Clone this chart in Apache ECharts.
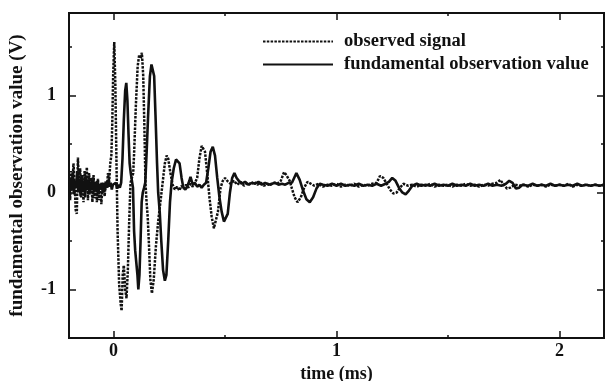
<!DOCTYPE html>
<html style="height: 100%">
<head>
    <meta charset="utf-8">
    <script src="https://cdn.jsdelivr.net/npm/echarts@6/dist/echarts.min.js"></script>
</head>
<body style="height: 100%; margin: 0; background: #fff">
<div id="container" style="width: 605px; height: 381px"></div>

<script type="text/javascript">
    // values: [time (ms), volts]
    var observedSignal = [
        [-0.198, 0.10], [-0.195, -0.08], [-0.19, 0.22], [-0.185, 0.05], [-0.18, 0.30], [-0.175, 0.12],
        [-0.17, -0.18], [-0.165, -0.22], [-0.16, 0.36], [-0.155, 0.08], [-0.15, 0.25], [-0.145, -0.05],
        [-0.14, 0.18], [-0.135, -0.10], [-0.13, 0.22], [-0.125, 0.02], [-0.12, 0.26], [-0.115, -0.08],
        [-0.11, 0.20], [-0.105, 0.00], [-0.10, 0.15], [-0.095, -0.10], [-0.09, 0.18], [-0.085, -0.06],
        [-0.08, 0.12], [-0.075, -0.10], [-0.07, 0.14], [-0.065, -0.08], [-0.06, 0.10], [-0.055, -0.12],
        [-0.05, 0.06], [-0.045, 0.10], [-0.04, -0.04], [-0.035, 0.12], [-0.03, 0.05], [-0.025, 0.20],
        [-0.02, 0.10], [-0.015, 0.30], [-0.01, 0.38], [-0.006, 0.70], [-0.002, 1.20], [0.003, 1.55],
        [0.008, 1.10], [0.013, 0.30], [0.018, -0.40], [0.025, -0.95], [0.032, -1.15], [0.036, -1.22],
        [0.041, -0.85], [0.046, -0.75], [0.052, -1.00], [0.058, -1.09], [0.064, -0.80], [0.07, -0.30],
        [0.076, 0.10], [0.082, 0.15], [0.088, 0.20], [0.092, 0.40], [0.10, 0.90], [0.108, 1.30],
        [0.115, 1.42], [0.121, 1.38], [0.127, 1.44], [0.133, 1.20], [0.138, 0.70], [0.143, 0.10],
        [0.148, -0.10], [0.153, -0.25], [0.158, -0.50], [0.165, -0.90], [0.172, -1.04], [0.18, -0.90],
        [0.19, -0.55], [0.20, -0.30], [0.21, -0.10], [0.22, 0.10], [0.23, 0.30], [0.238, 0.38],
        [0.245, 0.35], [0.255, 0.20], [0.265, 0.08], [0.275, 0.03], [0.285, 0.06], [0.295, 0.02],
        [0.305, 0.07], [0.315, 0.04], [0.325, 0.08], [0.335, 0.05], [0.345, 0.09], [0.355, 0.06],
        [0.365, 0.10], [0.375, 0.15], [0.385, 0.35], [0.395, 0.48], [0.403, 0.50], [0.41, 0.42],
        [0.42, 0.20], [0.43, -0.05], [0.44, -0.25], [0.45, -0.37], [0.458, -0.38], [0.468, -0.20],
        [0.48, 0.05], [0.49, 0.12], [0.50, 0.15], [0.51, 0.12], [0.525, 0.09], [0.54, 0.12],
        [0.555, 0.08], [0.57, 0.11], [0.585, 0.07], [0.60, 0.10], [0.615, 0.08], [0.63, 0.11],
        [0.645, 0.08], [0.66, 0.10], [0.675, 0.07], [0.69, 0.09], [0.705, 0.08], [0.72, 0.10],
        [0.735, 0.09], [0.75, 0.12], [0.765, 0.21], [0.775, 0.18], [0.79, 0.12], [0.80, 0.04],
        [0.812, -0.05], [0.825, -0.10], [0.84, -0.05], [0.855, 0.05], [0.87, 0.11], [0.885, 0.09],
        [0.90, 0.07], [0.92, 0.09], [0.94, 0.06], [0.96, 0.08], [0.98, 0.07], [1.00, 0.09],
        [1.02, 0.06], [1.04, 0.08], [1.06, 0.07], [1.08, 0.09], [1.10, 0.06], [1.12, 0.08],
        [1.14, 0.07], [1.16, 0.09], [1.18, 0.10], [1.195, 0.17], [1.21, 0.15], [1.225, 0.09],
        [1.24, 0.03], [1.255, -0.01], [1.27, 0.00], [1.285, 0.05], [1.30, 0.09], [1.32, 0.07],
        [1.34, 0.08], [1.36, 0.06], [1.38, 0.08], [1.40, 0.07], [1.42, 0.09], [1.44, 0.06],
        [1.46, 0.08], [1.48, 0.07], [1.50, 0.08], [1.52, 0.06], [1.54, 0.08], [1.56, 0.07],
        [1.58, 0.09], [1.60, 0.07], [1.62, 0.08], [1.64, 0.06], [1.66, 0.08], [1.68, 0.07],
        [1.70, 0.09], [1.72, 0.10], [1.735, 0.13], [1.75, 0.08], [1.765, 0.04], [1.78, 0.05],
        [1.80, 0.08], [1.82, 0.07], [1.84, 0.08], [1.86, 0.06], [1.88, 0.08], [1.90, 0.07],
        [1.92, 0.08], [1.94, 0.06], [1.96, 0.08], [1.98, 0.07], [2.00, 0.08], [2.02, 0.07],
        [2.04, 0.09], [2.06, 0.06], [2.08, 0.08], [2.10, 0.07], [2.12, 0.08], [2.14, 0.07],
        [2.16, 0.08], [2.18, 0.07], [2.20, 0.08]
    ];

    var fundamentalValue = [
        [-0.198, 0.00], [-0.193, 0.15], [-0.188, 0.02], [-0.183, 0.20], [-0.178, -0.02], [-0.173, 0.12],
        [-0.168, 0.05], [-0.163, 0.22], [-0.158, 0.00], [-0.153, 0.14], [-0.148, -0.04], [-0.143, 0.18],
        [-0.138, 0.02], [-0.133, 0.12], [-0.128, -0.05], [-0.123, 0.15], [-0.118, 0.03], [-0.113, 0.12],
        [-0.108, -0.02], [-0.103, 0.10], [-0.098, 0.04], [-0.093, 0.13], [-0.088, 0.00], [-0.083, 0.10],
        [-0.078, 0.02], [-0.073, 0.12], [-0.068, -0.02], [-0.063, 0.08], [-0.058, 0.03], [-0.053, 0.10],
        [-0.048, 0.00], [-0.043, 0.09], [-0.038, 0.03], [-0.033, 0.10], [-0.028, 0.05], [-0.023, 0.12],
        [-0.018, 0.06], [-0.013, 0.10], [-0.008, 0.03], [-0.003, 0.08], [0.003, 0.06], [0.01, 0.10],
        [0.016, 0.04], [0.022, 0.08], [0.028, 0.05], [0.034, 0.10], [0.04, 0.35], [0.046, 0.75],
        [0.052, 1.05], [0.057, 1.13], [0.062, 0.95], [0.067, 0.60], [0.072, 0.30], [0.077, 0.20],
        [0.082, 0.22], [0.087, 0.05], [0.092, -0.40], [0.097, -0.60], [0.102, -0.58], [0.107, -0.85],
        [0.111, -1.00], [0.116, -0.85], [0.121, -0.50], [0.126, -0.10], [0.131, 0.00], [0.137, 0.05],
        [0.142, 0.10], [0.148, 0.40], [0.155, 0.80], [0.163, 1.20], [0.17, 1.32], [0.176, 1.33],
        [0.182, 1.20], [0.188, 0.80], [0.195, 0.30], [0.20, 0.00], [0.207, -0.20], [0.214, -0.50],
        [0.222, -0.80], [0.23, -0.91], [0.237, -0.85], [0.245, -0.50], [0.253, -0.10], [0.26, 0.10],
        [0.27, 0.25], [0.28, 0.34], [0.288, 0.35], [0.296, 0.30], [0.305, 0.15], [0.313, 0.05],
        [0.322, 0.03], [0.33, 0.06], [0.34, 0.12], [0.345, 0.16], [0.355, 0.08], [0.365, 0.10],
        [0.375, 0.06], [0.385, 0.08], [0.395, 0.05], [0.405, 0.08], [0.415, 0.10], [0.425, 0.25],
        [0.435, 0.42], [0.445, 0.47], [0.455, 0.38], [0.465, 0.15], [0.475, -0.05], [0.485, -0.20],
        [0.495, -0.30], [0.503, -0.32], [0.512, -0.22], [0.522, 0.00], [0.532, 0.15], [0.542, 0.20],
        [0.552, 0.15], [0.562, 0.12], [0.575, 0.09], [0.59, 0.11], [0.605, 0.08], [0.62, 0.10],
        [0.635, 0.09], [0.65, 0.11], [0.665, 0.08], [0.68, 0.10], [0.695, 0.08], [0.71, 0.09],
        [0.725, 0.10], [0.74, 0.08], [0.755, 0.09], [0.77, 0.08], [0.785, 0.10], [0.80, 0.10],
        [0.81, 0.15], [0.82, 0.20], [0.835, 0.13], [0.85, 0.02], [0.865, -0.07], [0.88, -0.10],
        [0.895, -0.05], [0.91, 0.04], [0.925, 0.09], [0.94, 0.08], [0.96, 0.07], [0.98, 0.09],
        [1.00, 0.07], [1.02, 0.09], [1.04, 0.07], [1.06, 0.08], [1.08, 0.07], [1.10, 0.09],
        [1.12, 0.07], [1.14, 0.08], [1.16, 0.07], [1.18, 0.09], [1.20, 0.07], [1.22, 0.09],
        [1.235, 0.11], [1.25, 0.15], [1.265, 0.12], [1.28, 0.05], [1.295, 0.00], [1.31, -0.02],
        [1.325, 0.02], [1.34, 0.07], [1.36, 0.09], [1.38, 0.07], [1.40, 0.08], [1.42, 0.07],
        [1.44, 0.09], [1.46, 0.07], [1.48, 0.08], [1.50, 0.07], [1.52, 0.09], [1.54, 0.07],
        [1.56, 0.08], [1.58, 0.07], [1.60, 0.09], [1.62, 0.07], [1.64, 0.08], [1.66, 0.07],
        [1.68, 0.09], [1.70, 0.07], [1.72, 0.08], [1.74, 0.07], [1.76, 0.09], [1.775, 0.12],
        [1.79, 0.10], [1.805, 0.04], [1.82, 0.05], [1.835, 0.08], [1.86, 0.07], [1.88, 0.09],
        [1.90, 0.07], [1.92, 0.08], [1.94, 0.07], [1.96, 0.09], [1.98, 0.07], [2.00, 0.08],
        [2.02, 0.07], [2.04, 0.08], [2.06, 0.07], [2.08, 0.09], [2.10, 0.07], [2.12, 0.08],
        [2.14, 0.07], [2.16, 0.08], [2.18, 0.07], [2.20, 0.08]
    ];

    var xMajorTicks = [0, 1, 2];
    var xMinorTicks = [0.5, 1.5];
    var yMajorTicks = [-1, 0, 1];
    var yMinorTicks = [-1.5, -0.5, 0.5, 1.5];

    var font = "'Liberation Serif', 'Times New Roman', serif";
    var ink = '#111';

    function xAxisOf(pos, ticks, len, labels) {
        return {
            type: 'value', position: pos, min: -0.2, max: 2.2,
            axisLine: {show: true, onZero: false, lineStyle: {color: ink, width: 2}},
            axisTick: {show: true, inside: true, length: len, customValues: ticks,
                       lineStyle: {color: ink, width: 1.5}},
            axisLabel: labels ? {show: true, customValues: ticks, margin: 4,
                       color: ink, fontFamily: font, fontSize: 18, fontWeight: 'bold'} : {show: false},
            splitLine: {show: false}
        };
    }
    function yAxisOf(pos, ticks, len, labels) {
        return {
            type: 'value', position: pos, min: -1.5, max: 1.85,
            axisLine: {show: true, onZero: false, lineStyle: {color: ink, width: 2}},
            axisTick: {show: true, inside: true, length: len, customValues: ticks,
                       lineStyle: {color: ink, width: 1.5}},
            axisLabel: labels ? {show: true, customValues: ticks, margin: 13,
                       color: ink, fontFamily: font, fontSize: 18, fontWeight: 'bold'} : {show: false},
            splitLine: {show: false}
        };
    }

    var xMain = xAxisOf('bottom', xMajorTicks, 7, true);
    xMain.name = 'time (ms)';
    xMain.nameLocation = 'middle';
    xMain.nameGap = 25;
    xMain.nameTextStyle = {color: ink, fontFamily: font, fontSize: 18, fontWeight: 'bold'};

    var yMain = yAxisOf('left', yMajorTicks, 7, true);
    yMain.name = 'fundamental observation value (V)';
    yMain.nameLocation = 'middle';
    yMain.nameGap = 42;
    yMain.nameTextStyle = {color: ink, fontFamily: font, fontSize: 19, fontWeight: 'bold'};

    var myChart = echarts.init(document.getElementById('container'));
    myChart.setOption({
        animation: false,
        backgroundColor: '#fff',
        grid: {left: 69, right: 1, top: 13, bottom: 43, outerBoundsMode: 'none'},
        legend: {
            orient: 'vertical', left: 262, top: 32, padding: 0,
            itemWidth: 70, itemHeight: 14, itemGap: 4,
            itemStyle: {opacity: 0},
            textStyle: {color: ink, fontFamily: font, fontSize: 18.5, fontWeight: 'bold',
                        padding: [0, 0, 0, 6]},
            data: ['observed signal', 'fundamental observation value']
        },
        xAxis: [
            xMain,
            xAxisOf('top', xMajorTicks, 7, false),
            xAxisOf('bottom', xMinorTicks, 3, false),
            xAxisOf('top', xMinorTicks, 3, false)
        ],
        yAxis: [
            yMain,
            yAxisOf('right', yMajorTicks, 7, false),
            yAxisOf('left', yMinorTicks, 3, false),
            yAxisOf('right', yMinorTicks, 3, false)
        ],
        series: [
            {
                name: 'observed signal', type: 'line', showSymbol: false, symbol: 'none',
                data: observedSignal,
                lineStyle: {color: ink, width: 2.5, type: [2.5, 1.3]},
                itemStyle: {color: ink}
            },
            {
                name: 'fundamental observation value', type: 'line', showSymbol: false, symbol: 'none',
                data: fundamentalValue,
                lineStyle: {color: ink, width: 2.6},
                itemStyle: {color: ink}
            }
        ]
    });
</script>
</body>
</html>
